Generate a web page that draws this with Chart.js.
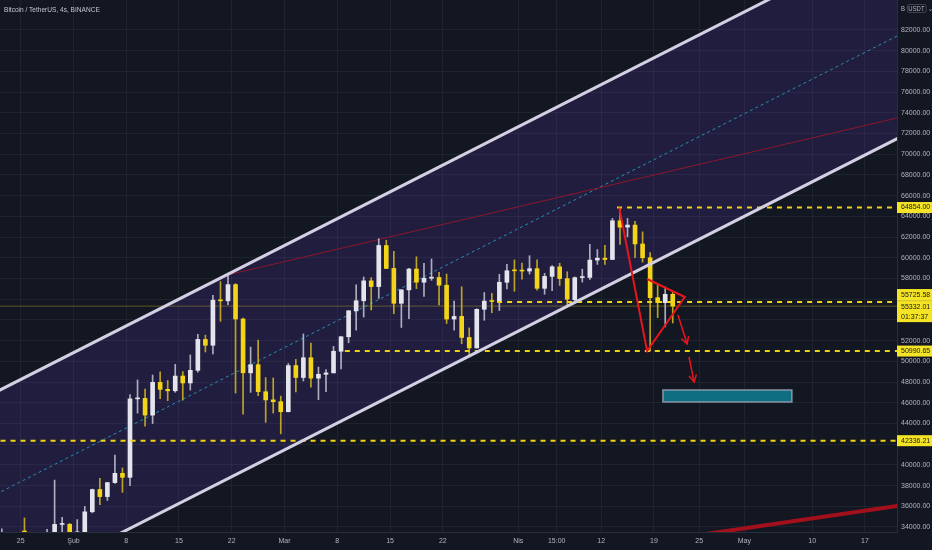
<!DOCTYPE html>
<html lang="tr">
<head>
<meta charset="UTF-8">
<title>Bitcoin / TetherUS, 4s, BINANCE</title>
<script src="https://cdn.jsdelivr.net/npm/chart.js"></script>
<style>
  html, body { margin: 0; padding: 0; background: #131722; }
  .wrap { position: relative; width: 932px; height: 550px; }
  #chart { display: block; }
  .title { position: absolute; left: 4px; top: 5px; font: 8px 'Liberation Sans', sans-serif; color: #c3c6ce;
    white-space: nowrap; transform: scaleX(0.82); transform-origin: 0 0; }
  .cur { position: absolute; left: 901px; top: 5px; font: 7px 'Liberation Sans', sans-serif; color: #b2b5be;
    white-space: nowrap; transform: scaleX(0.85); transform-origin: 0 0; }
  .cur span { border: 1px solid #434651; border-radius: 2px; padding: 0 1px; }
</style>
</head>
<body>
<div class="wrap">
  <canvas id="chart" width="932" height="550"></canvas>
  <div class="title">Bitcoin / TetherUS, 4s, BINANCE</div>
  <div class="cur">B <span>USDT</span> ⌄</div>
</div>

<script>
// gunluk mumlar, 22 Oca 2021 - 21 Nis 2021 (gun numarasi: 1 Oca = 0)
var firstDay = 21;
var opens = [30850, 32950, 32078, 32259, 32254, 32464, 30362, 33368, 34246, 34262,
  33092, 33517, 35472, 37620, 36936, 38290, 39181, 38795, 46374, 46420,
  44807, 47969, 47298, 47156, 48580, 47911, 49133, 52117, 51550, 55906,
  55841, 57412, 54088, 48891, 49677, 47063, 46278, 46104, 45134, 49596,
  48436, 50349, 48374, 48746, 48883, 50971, 52373, 54874, 55851, 57773,
  57221, 61188, 58976, 55605, 56900, 58912, 57641, 58030, 58100, 57351,
  54083, 54342, 52303, 51293, 55025, 55817, 55781, 57635, 58761, 58739,
  58720, 58950, 57051, 58202, 59129, 57990, 55953, 58092, 58100, 59778,
  59964, 59835, 63575, 62959, 63159, 61334, 60006, 56150, 55664, 56471];
var highs = [33826, 33456, 32944, 34875, 32921, 32557, 33783, 38531, 34933, 34342,
  34717, 35984, 37662, 38708, 38310, 40955, 39700, 46794, 48200, 47310,
  48678, 48985, 48150, 49707, 49010, 50620, 52618, 52530, 56368, 57700,
  58352, 57508, 54183, 51374, 52041, 48425, 48394, 46638, 49790, 50200,
  52640, 51773, 49448, 49200, 51450, 52402, 54895, 57387, 58150, 58081,
  61844, 61700, 60633, 56938, 58977, 60100, 59468, 59880, 58589, 58430,
  55830, 57200, 53230, 55073, 56640, 56559, 58400, 59368, 59800, 59490,
  60200, 59791, 58500, 59252, 59475, 58650, 58153, 58894, 61300, 60800,
  61200, 63800, 64854, 63800, 63520, 62506, 60499, 57526, 57200, 56757];
var lows = [28850, 31390, 31106, 31910, 30837, 29241, 29842, 31915, 32825, 32050,
  32296, 33418, 35362, 36161, 36570, 38215, 37351, 37988, 45000, 43727,
  43994, 46400, 46202, 47014, 46250, 47225, 48947, 50901, 50710, 53863,
  55477, 46937, 44892, 47003, 46674, 44106, 45000, 43000, 45115, 47047,
  48100, 47500, 46300, 47070, 48882, 49274, 51789, 53005, 54272, 54962,
  56078, 58966, 54600, 53271, 54123, 57023, 56270, 57820, 55450, 53650,
  53000, 51700, 50427, 51283, 53966, 54691, 54899, 57000, 56769, 57935,
  58428, 56880, 56478, 56817, 57333, 55473, 55700, 57654, 57900, 59360,
  59370, 59823, 61300, 62020, 60000, 59580, 50990.65, 54221, 53329, 53695];
var closes = [32950, 32078, 32259, 32254, 32467, 30366, 33364, 34252, 34262, 33092,
  33526, 35466, 37618, 36936, 38290, 39186, 38795, 46374, 46420, 44807,
  47969, 47287, 47153, 48577, 47911, 49133, 52119, 51552, 55906, 55841,
  57408, 54087, 48891, 49676, 47073, 46276, 46106, 45135, 49587, 48440,
  50349, 48374, 48751, 48882, 50971, 52375, 54884, 55851, 57773, 57221,
  61188, 58968, 55605, 56900, 58912, 57648, 58030, 58102, 57351, 54083,
  54340, 52303, 51293, 55025, 55817, 55777, 57635, 58747, 58740, 58720,
  58950, 57051, 58202, 59129, 57991, 56000, 58080, 58100, 59778, 59964,
  59835, 63575, 62959, 63160, 61334, 60007, 56150, 55663, 56473, 55332.01];

var yTicks = [34000, 36000, 38000, 40000, 42000, 44000, 46000, 48000, 50000, 52000,
  54000, 56000, 58000, 60000, 62000, 64000, 66000, 68000, 70000, 72000,
  74000, 76000, 78000, 80000, 82000];
var xTickDays = [24, 31, 38, 45, 52, 59, 66, 73, 80, 90, 95.1, 101, 108, 114, 120, 129, 136];
var xTickLabels = ['25', 'Şub', '8', '15', '22', 'Mar', '8', '15', '22', 'Nis', '15:00', '12', '19', '25', 'May', '10', '17'];

// cizimler [gun, fiyat]
var channelTop = [[20, 46766], [142, 91882]];
var channelBottom = [[20, 27026], [142, 72142]];
var channelMid = [[20, 36896], [142, 82062]];
var redTrend = [[51.6, 58370], [142, 73800]];
var redBottom = [[110, 32805], [142, 36213]];
var wedge = [[103.4, 64854], [107.1, 50990.65], [112.1, 56213], [107.1, 57951]];
var arrow1 = [[111.2, 54474], [112.4, 51674]];
var arrow2 = [[112.66, 50418], [113.33, 48003]];
var levels = [64854.00, 55725.58, 50990.65, 42336.21];
var levelStart = [103.1, 87.2, 67.0, 20];
var lastPrice = 55332.01;
var targetBox = [109.2, 126.3, 46072, 47231];

var axisFont = "'Liberation Sans', sans-serif";
var white = '#e4e4ec', yellow = '#f3d418';

var bodies = [], wicks = [], bodyColors = [], wickColors = [];
for (var i = 0; i < opens.length; i++) {
  var d = firstDay + i + 0.5;
  var up = closes[i] >= opens[i];
  bodies.push({ x: d, y: [opens[i], closes[i]] });
  wicks.push({ x: d, y: [lows[i], highs[i]] });
  bodyColors.push(up ? white : yellow);
  wickColors.push(up ? 'rgba(210,210,222,0.8)' : 'rgba(215,188,35,0.85)');
}

function pts(arr) {
  return arr.map(function (p) { return { x: p[0], y: p[1] }; });
}
function line(data, color, width, dash, order) {
  return { type: 'line', data: pts(data), borderColor: color, borderWidth: width,
    borderDash: dash || [], pointRadius: 0, fill: false, tension: 0, order: order };
}
function noPad(s) {
  s.paddingTop = 0; s.paddingBottom = 0; s.paddingLeft = 0; s.paddingRight = 0;
}

var datasets = [
  { type: 'line', data: pts(channelTop), borderWidth: 0, pointRadius: 0, tension: 0,
    fill: 1, backgroundColor: 'rgba(98,60,190,0.19)', order: 20 },
  line(channelBottom, '#d4d0e3', 3, null, 5),
  line(channelTop, '#d4d0e3', 3, null, 5),
  line(channelMid, '#2a8db5', 1, [3, 3], 19),
  line(redTrend, 'rgba(145,22,42,0.95)', 1, null, 18),
  line([[20, lastPrice], [142, lastPrice]], 'rgba(190,160,40,0.45)', 1, null, 17),
  { type: 'bar', data: wicks, backgroundColor: wickColors, barThickness: 1, grouped: false, order: 12 },
  { type: 'bar', data: bodies, backgroundColor: bodyColors, barThickness: 4, minBarLength: 1, grouped: false, order: 11 }
];
for (var k = 0; k < levels.length; k++) {
  datasets.push(line([[levelStart[k], levels[k]], [142, levels[k]]], '#f0d215', 2, [5, 5], 8));
}
datasets.push(line(redBottom, '#a3101c', 4, null, 4));
datasets.push(line(wedge, '#e8161b', 2, null, 2));
var arrowIdx = [datasets.length, datasets.length + 1];
datasets.push(line(arrow1, '#e8161b', 1.5, null, 1));
datasets.push(line(arrow2, '#e8161b', 1.5, null, 1));

var overlay = {
  id: 'overlay',
  afterDatasetsDraw: function (chart) {
    var c = chart.ctx, xs = chart.scales.x, ys = chart.scales.y;
    c.save();
    // hedef kutusu
    var x0 = xs.getPixelForValue(targetBox[0]), x1 = xs.getPixelForValue(targetBox[1]);
    var y0 = ys.getPixelForValue(targetBox[3]), y1 = ys.getPixelForValue(targetBox[2]);
    c.fillStyle = '#0f6e82';
    c.fillRect(x0, y0, x1 - x0, y1 - y0);
    c.strokeStyle = 'rgba(150,158,178,0.9)';
    c.lineWidth = 1.5;
    c.strokeRect(x0, y0, x1 - x0, y1 - y0);
    // ok uclari
    c.strokeStyle = '#e8161b';
    c.lineWidth = 1.5;
    arrowIdx.forEach(function (idx) {
      var p = chart.getDatasetMeta(idx).data;
      var a = Math.atan2(p[1].y - p[0].y, p[1].x - p[0].x);
      c.beginPath();
      c.moveTo(p[1].x - 8 * Math.cos(a - 0.5), p[1].y - 8 * Math.sin(a - 0.5));
      c.lineTo(p[1].x, p[1].y);
      c.lineTo(p[1].x - 8 * Math.cos(a + 0.5), p[1].y - 8 * Math.sin(a + 0.5));
      c.stroke();
    });
    c.restore();
  },
  afterDraw: function (chart) {
    var c = chart.ctx, ys = chart.scales.y, left = chart.chartArea.right;
    c.save();
    c.font = '7px ' + axisFont;
    c.textBaseline = 'middle';
    function box(top, bottom) {
      c.fillStyle = '#f5e426';
      c.fillRect(left, top, chart.width - left, bottom - top);
    }
    function txt(s, y) {
      c.fillStyle = '#131722';
      c.fillText(s, left + 4, y);
    }
    [levels[0], levels[2], levels[3]].forEach(function (v) {
      var y = ys.getPixelForValue(v);
      box(y - 5.5, y + 5.5);
      txt(v.toFixed(2), y);
    });
    var ya = ys.getPixelForValue(levels[1]), yb = ys.getPixelForValue(lastPrice);
    box(ya - 13, yb + 16);
    c.fillStyle = 'rgba(19,23,34,0.25)';
    c.fillRect(left, ya - 1.5, chart.width - left, 0.6);
    txt(levels[1].toFixed(2), ya - 7);
    txt(lastPrice.toFixed(2), yb + 1);
    txt('01:37:37', yb + 11);
    c.restore();
  }
};

new Chart(document.getElementById('chart'), {
  type: 'bar',
  data: { datasets: datasets },
  plugins: [overlay],
  options: {
    responsive: false,
    animation: false,
    layout: { padding: 0 },
    plugins: { legend: { display: false }, tooltip: { enabled: false } },
    scales: {
      x: {
        type: 'linear', min: 21.254, max: 140.25, offset: false,
        grid: { color: 'rgba(42,46,57,0.55)', offset: false, drawTicks: false },
        border: { color: '#2a2e39' },
        ticks: {
          color: '#b2b5be', font: { family: axisFont, size: 7 }, padding: 5,
          autoSkip: false, maxRotation: 0,
          callback: function (v, i) { return xTickLabels[i]; }
        },
        afterBuildTicks: function (s) { s.ticks = xTickDays.map(function (v) { return { value: v }; }); },
        afterFit: function (s) { s.height = 18; noPad(s); }
      },
      y: {
        type: 'linear', position: 'right', min: 33517, max: 84897,
        grid: { color: 'rgba(42,46,57,0.55)', drawTicks: false },
        border: { color: '#2a2e39' },
        ticks: {
          color: '#b2b5be', font: { family: axisFont, size: 7 }, padding: 4,
          callback: function (v) { return v.toFixed(2); }
        },
        afterBuildTicks: function (s) { s.ticks = yTicks.map(function (v) { return { value: v }; }); },
        afterFit: function (s) { s.width = 35; noPad(s); }
      }
    }
  }
});
</script>
</body>
</html>
